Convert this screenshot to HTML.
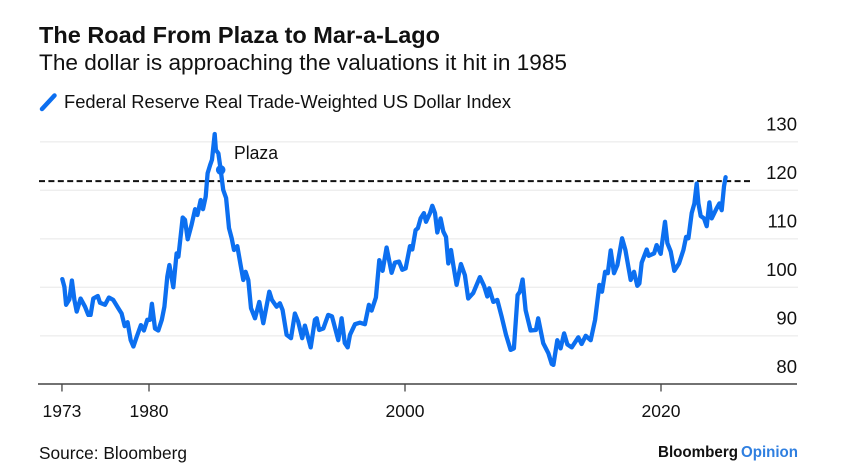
<!DOCTYPE html>
<html>
<head>
<meta charset="utf-8">
<title>The Road From Plaza to Mar-a-Lago</title>
<style>
html,body{margin:0;padding:0;background:#fff;width:850px;height:469px;overflow:hidden}
svg{display:block}
text{font-family:"Liberation Sans",sans-serif;fill:#111}
</style>
</head>
<body>
<svg id="chart" width="850" height="469" viewBox="0 0 850 469" xmlns="http://www.w3.org/2000/svg">
  <rect x="0" y="0" width="850" height="469" fill="#fff"/>
  <text x="39" y="43" font-size="23.500" font-weight="700" textLength="401" lengthAdjust="spacingAndGlyphs">The Road From Plaza to Mar-a-Lago</text>
  <text x="39" y="70" font-size="22" textLength="528" lengthAdjust="spacingAndGlyphs">The dollar is approaching the valuations it hit in 1985</text>
  <line x1="42" y1="109" x2="54.500" y2="95.500" stroke="#0c6ff0" stroke-width="4.500" stroke-linecap="round"/>
  <text x="64" y="108" font-size="18" textLength="447" lengthAdjust="spacingAndGlyphs">Federal Reserve Real Trade-Weighted US Dollar Index</text>
  <g id="grid"></g>
  <g id="yLabels"></g>
  <line x1="38" y1="384" x2="797" y2="384" stroke="#444" stroke-width="1.500"/>
  <g id="xAxis"></g>
  <g id="series"></g>
  <text x="234" y="159" font-size="18" textLength="44" lengthAdjust="spacingAndGlyphs">Plaza</text>
  <text x="39" y="459" font-size="17.500" textLength="148" lengthAdjust="spacingAndGlyphs">Source: Bloomberg</text>
  <text x="658" y="457" font-size="16" font-weight="700" textLength="80" lengthAdjust="spacingAndGlyphs">Bloomberg</text>
  <text x="741" y="457" font-size="16" font-weight="700" style="fill:#2f7fe0" textLength="57" lengthAdjust="spacingAndGlyphs">Opinion</text>
</svg>
<script>
const years = [1973.23,1973.39,1973.52,1973.78,1973.98,1974.17,1974.35,1974.66,1975,1975.26,1975.44,1975.65,1976,1976.17,1976.56,1976.87,1977.2,1977.6,1977.86,1978.1,1978.33,1978.57,1978.78,1979.04,1979.37,1979.6,1979.87,1980.08,1980.23,1980.47,1980.73,1981,1981.2,1981.43,1981.59,1981.9,1982.16,1982.3,1982.63,1982.81,1983.02,1983.33,1983.6,1983.78,1984.04,1984.22,1984.43,1984.58,1984.77,1984.92,1985.13,1985.23,1985.42,1985.6,1985.8,1986.02,1986.25,1986.46,1986.64,1986.9,1987.16,1987.37,1987.55,1987.76,1987.97,1988.28,1988.62,1988.93,1989.4,1989.6,1989.97,1990.23,1990.44,1990.75,1991.09,1991.4,1991.66,1991.97,1992.18,1992.63,1992.96,1993.1,1993.3,1993.62,1994,1994.3,1994.79,1995.05,1995.3,1995.52,1995.7,1996.09,1996.48,1996.87,1997.18,1997.39,1997.73,1997.99,1998.25,1998.56,1998.95,1999.21,1999.53,1999.79,2000.05,2000.39,2000.57,2000.83,2001.01,2001.22,2001.48,2001.64,2001.95,2002.13,2002.34,2002.52,2002.78,2002.99,2003.2,2003.38,2003.59,2003.77,2004.03,2004.37,2004.68,2004.94,2005.33,2005.85,2006.17,2006.43,2006.58,2006.9,2007.21,2007.55,2007.89,2008.25,2008.51,2008.8,2008.98,2009.19,2009.42,2009.81,2010.23,2010.41,2010.8,2011.2,2011.46,2011.59,2011.9,2012.16,2012.43,2012.69,2013.02,2013.54,2013.8,2014.12,2014.51,2014.85,2015.19,2015.39,2015.63,2015.84,2016.07,2016.33,2016.59,2016.96,2017.22,2017.63,2017.89,2018.15,2018.31,2018.49,2018.88,2019.04,2019.46,2019.66,2019.98,2020.31,2020.5,2020.76,2021.04,2021.41,2021.75,2021.96,2022.14,2022.4,2022.61,2022.79,2022.92,2023.1,2023.36,2023.57,2023.78,2023.96,2024.35,2024.56,2024.74,2024.92,2025.05];
const dollarIndex = [101.7,100.1,96.4,97.5,101.4,97.4,95,97.7,96,94.3,94.3,97.7,98.2,96.8,96.4,97.9,97.4,95.7,94.6,92,92.8,89.1,87.8,89.8,92.2,91.1,93.3,93.3,96.6,91.5,91.1,93.3,96,102.2,104.6,100,107,106.3,114.4,113.9,109.9,112.9,116.1,114.9,118,116.1,118.7,123.5,125.2,126.3,131.6,128.3,127.6,124.2,120.1,118.4,112.2,110.1,107.7,108.5,104.6,101.5,103.2,101.5,95.7,93.6,97,92.6,99.1,97.4,96,96.7,95.3,90.2,89.5,94.6,92.9,89.5,92.1,87.6,93.3,93.6,91.2,91.5,94.3,94,89.1,93.6,88.5,87.6,90.2,92.4,92.7,92.4,96.4,95.2,97.9,105.6,103.4,108.2,103,105.1,105.3,103.6,103.9,108.5,107.8,111.8,112.2,114.2,115.3,113.5,115.3,116.8,115.3,111.3,114.2,111.5,110.4,104.9,107.7,104.6,100.5,104.8,102.5,97.7,98.8,102.1,100.3,98.1,99.8,97,97.4,94,90.2,87.1,87.4,98.4,99.1,101.6,95.3,91.1,91.2,93.6,88.5,86.4,84.2,84,89.1,87.4,90.5,88.2,87.6,89.7,88.3,90,89.1,93.3,100.5,99.1,103.2,102.9,107.6,102.9,104.6,110.1,107.7,101.5,103.2,100.3,100.8,105.1,107.8,106.5,107,108.7,106.9,113.5,109.1,107.4,103.4,104.9,107.7,110.4,110.1,115.3,117.3,121.4,117.3,114.7,114.2,112.6,117.5,114.2,116.3,117.3,115.9,120.8,122.7];
const yTicks = [130,120,110,100,90,80];
const gridValues = [130,120,110,100,90];
const xTickYears = [1973.2,1980,2000,2020];
const xTickLabels = ["1973","1980","2000","2020"];
const plazaPoint = [1985.6,124.2];
const referenceLevel = 121.9;

const NS = "http://www.w3.org/2000/svg";
function xScale(year){ return 149 + (year - 1980) * 12.8; }
function yScale(value){ return 287.3 - (value - 100) * 4.85; }
function make(tag, parent, attrs){
  const el = document.createElementNS(NS, tag);
  for (const k in attrs) el.setAttribute(k, attrs[k]);
  parent.appendChild(el);
  return el;
}

const grid = document.getElementById("grid");
gridValues.forEach(function(v){
  const l = make("line", grid, {x1:40, x2:798, y1:yScale(v), y2:yScale(v), stroke:"#eeeeee", "stroke-width":1.3});
  
  
});

const yLabels = document.getElementById("yLabels");
yTicks.forEach(function(v){
  const t = make("text", yLabels, {x:797, y:yScale(v) - 11.5, "text-anchor":"end", "font-size":18.5});
  t.textContent = String(v);
  
  
});

const xAxis = document.getElementById("xAxis");
xTickYears.forEach(function(y, i){
  const tick = make("line", xAxis, {x1:xScale(y), x2:xScale(y), y1:384, y2:391.5, stroke:"#444", "stroke-width":1.3});
  
  
  const t = make("text", xAxis, {x:xScale(y), y:417, "text-anchor":"middle", "font-size":17.5});
  t.textContent = xTickLabels[i];
  
  
});

const seriesGroup = document.getElementById("series");
const ref = make("line", seriesGroup, {x1:39, x2:750, y1:yScale(referenceLevel), y2:yScale(referenceLevel), stroke:"#111", "stroke-width":2, "stroke-dasharray":"6 3.4"});



const d = years.map(function(y, i){ return (i ? "L" : "M") + xScale(y).toFixed(1) + " " + yScale(dollarIndex[i]).toFixed(1); }).join(" ");
const path = make("path", seriesGroup, {d:d, fill:"none", stroke:"#0c6ff0", "stroke-width":4.3, "stroke-linejoin":"round", "stroke-linecap":"round"});



const dot = make("circle", seriesGroup, {cx:xScale(plazaPoint[0]), cy:yScale(plazaPoint[1]), r:4.8, fill:"#0c6ff0"});


</script>
</body>
</html>
